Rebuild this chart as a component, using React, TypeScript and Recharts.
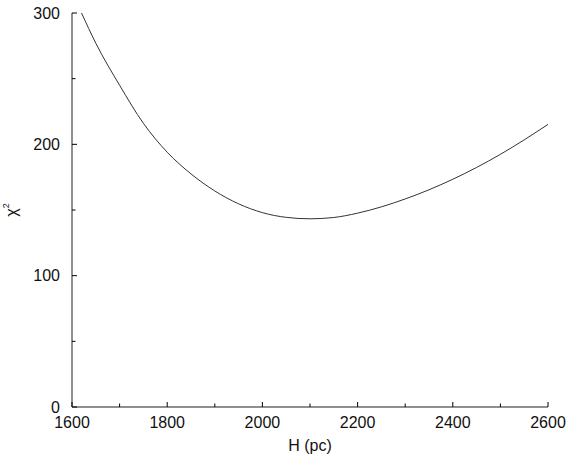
import React from 'react';
import { LineChart, Line, XAxis, YAxis } from 'recharts';

const hValues = [1620, 1650, 1700, 1750, 1800, 1850, 1900, 1950, 2000, 2050, 2100, 2150, 2200, 2250, 2300, 2350, 2400, 2450, 2500, 2550, 2600];
const chi2Values = [300, 277, 245, 216, 194, 177.5, 164.5, 154.7, 148, 144.4, 143.3, 144.3, 147.6, 152.4, 158.4, 165.4, 173.4, 182.4, 192.4, 203.4, 215.2];
const xTicks = [1600, 1700, 1800, 1900, 2000, 2100, 2200, 2300, 2400, 2500, 2600];
const yTicks = [0, 50, 100, 150, 200, 250, 300];
const xLabelStep = 200;
const yLabelStep = 100;

const data = hValues.map((h, i) => ({ h, chi2: chi2Values[i] }));

const FONT = '"Liberation Sans", Arial, sans-serif';
const AXIS_COLOR = '#8f8f8f';

const BottomTick = (props: any) => {
  const { x, y, payload } = props;
  const major = payload.value % xLabelStep === 0;
  return (
    <g>
      <line x1={x} y1={y} x2={x} y2={y - (major ? 5 : 3.5)} stroke="#000" strokeWidth={1} />
      {major && (
        <text x={x} y={y + 21} textAnchor="middle" fontSize={16} fontFamily={FONT} fill="#111">
          {payload.value}
        </text>
      )}
    </g>
  );
};

const TopTick = (props: any) => {
  const { x, y, payload } = props;
  const major = payload.value % xLabelStep === 0;
  return <line x1={x} y1={y} x2={x} y2={y + (major ? 5 : 3.5)} stroke="#000" strokeWidth={1} />;
};

const LeftTick = (props: any) => {
  const { x, y, payload } = props;
  const major = payload.value % yLabelStep === 0;
  return (
    <g>
      <line x1={x} y1={y} x2={x + (major ? 5 : 3.5)} y2={y} stroke="#000" strokeWidth={1} />
      {major && (
        <text x={x - 12} y={y + 5.5} textAnchor="end" fontSize={16} fontFamily={FONT} fill="#111">
          {payload.value}
        </text>
      )}
    </g>
  );
};

const RightTick = (props: any) => {
  const { x, y, payload } = props;
  const major = payload.value % yLabelStep === 0;
  return <line x1={x} y1={y} x2={x - (major ? 5 : 3.5)} y2={y} stroke="#000" strokeWidth={1} />;
};

const YLabel = (props: any) => {
  const { viewBox } = props;
  const cx = 17;
  const cy = viewBox.y + viewBox.height / 2;
  return (
    <text transform={`translate(${cx},${cy}) rotate(-90)`} textAnchor="middle" fontFamily={FONT} fill="#111" fontSize={16}>
      <tspan>χ</tspan>
      <tspan fontSize={9} dy={-8}>2</tspan>
    </text>
  );
};

export default function App() {
  return (
    <div style={{ position: 'absolute', left: 0, top: 0, background: '#fff' }}>
      <LineChart width={570} height={457} data={data} margin={{ top: 13, right: 22, left: 0, bottom: 0 }}>
        <XAxis
          xAxisId="bottom"
          dataKey="h"
          type="number"
          domain={[1600, 2600]}
          ticks={xTicks}
          orientation="bottom"
          height={50}
          tickSize={0}
          tickMargin={0}
          tickLine={false}
          tick={<BottomTick />}
          interval={0}
          axisLine={{ stroke: AXIS_COLOR, strokeWidth: 2 }}
          allowDataOverflow
          label={{ value: 'H (pc)', position: 'insideBottom', offset: 6, fontSize: 16, fontFamily: FONT, fill: '#111' }}
        />
        <XAxis
          xAxisId="top"
          dataKey="h"
          type="number"
          domain={[1600, 2600]}
          ticks={xTicks}
          orientation="top"
          height={0}
          tickSize={0}
          tickMargin={0}
          tickLine={false}
          tick={<TopTick />}
          interval={0}
          axisLine={{ stroke: AXIS_COLOR, strokeWidth: 2 }}
          allowDataOverflow
        />
        <YAxis
          yAxisId="left"
          type="number"
          domain={[0, 300]}
          ticks={yTicks}
          orientation="left"
          width={72}
          tickSize={0}
          tickMargin={0}
          tickLine={false}
          tick={<LeftTick />}
          interval={0}
          axisLine={{ stroke: AXIS_COLOR, strokeWidth: 2 }}
          allowDataOverflow
          label={<YLabel />}
        />
        <YAxis
          yAxisId="right"
          type="number"
          domain={[0, 300]}
          ticks={yTicks}
          orientation="right"
          width={0}
          tickSize={0}
          tickMargin={0}
          tickLine={false}
          tick={<RightTick />}
          interval={0}
          axisLine={{ stroke: AXIS_COLOR, strokeWidth: 2 }}
          allowDataOverflow
        />
        <Line
          xAxisId="bottom"
          yAxisId="left"
          type="monotone"
          dataKey="chi2"
          stroke="#333"
          strokeWidth={1}
          dot={false}
          isAnimationActive={false}
        />
      </LineChart>
    </div>
  );
}
